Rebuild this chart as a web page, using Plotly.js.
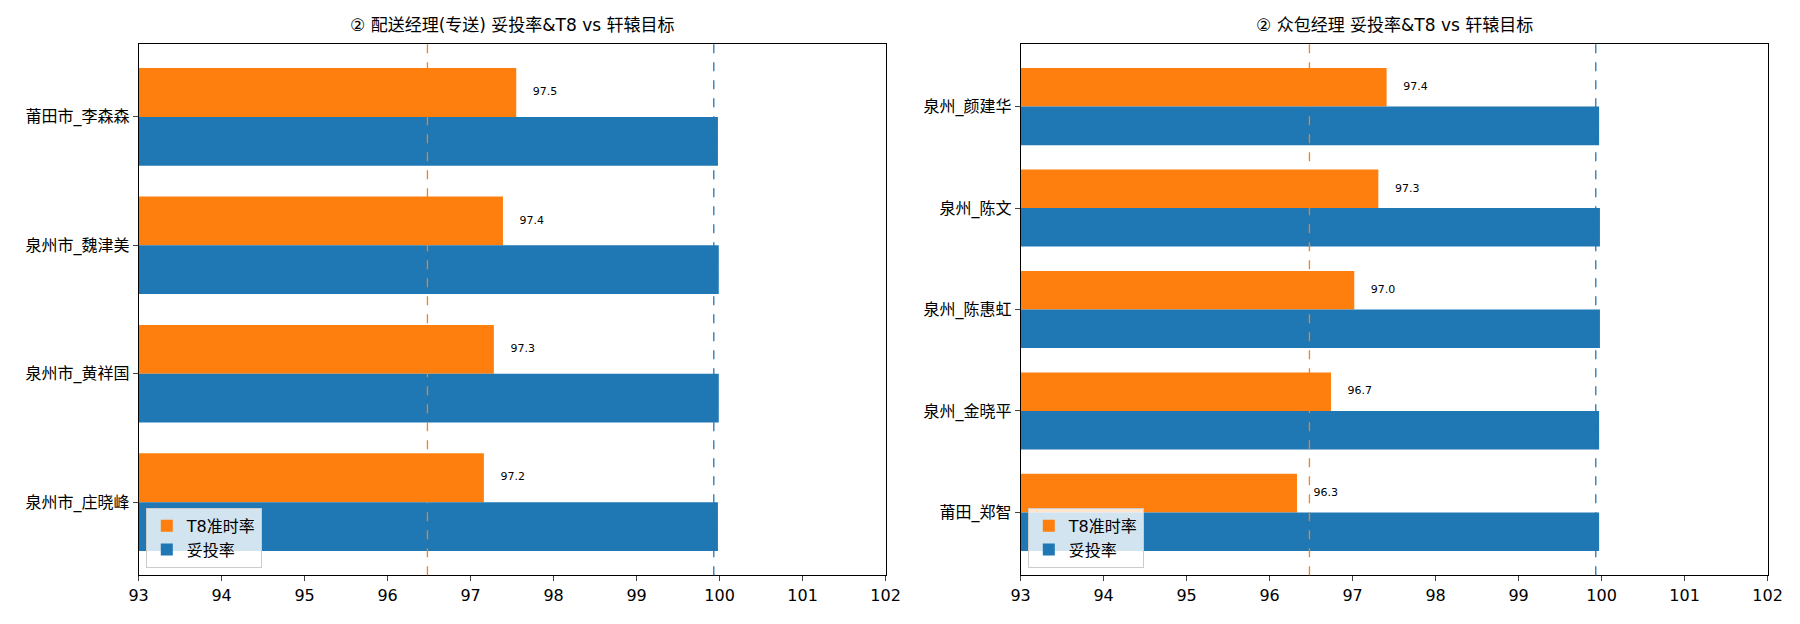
<!DOCTYPE html><html><head><meta charset="utf-8">
<script src="https://cdn.plot.ly/plotly-3.0.1.min.js"></script></head>
<body style="margin:0"><div id="c" style="width:1800px;height:624px"></div>
<script>
const leftNames=["莆田市_李森森","泉州市_魏津美","泉州市_黄祥国","泉州市_庄晓峰"];
const leftT8=[97.55,97.39,97.28,97.16];
const leftT8Text=["97.5","97.4","97.3","97.2"];
const leftTT=[99.98,99.99,99.99,99.98];
const rightNames=["泉州_颜建华","泉州_陈文","泉州_陈惠虹","泉州_金晓平","莆田_郑智"];
const rightT8=[97.41,97.31,97.02,96.74,96.33];
const rightT8Text=["97.4","97.3","97.0","96.7","96.3"];
const rightTT=[99.97,99.98,99.98,99.97,99.97];
const t8Target=96.48, ttTarget=99.93;
const OR='#ff7f0e', BL='#1f77b4';
const F='DejaVu Sans, Noto Sans CJK SC';
function pos(n){return Array.from({length:n},(_,i)=>n-1-i);}
function traces(names,t8,t8t,tt,ax,lg){
  const p=pos(names.length);
  return [
   {type:'bar',orientation:'h',x:t8,y:p.map(v=>v+0.19),width:0.38,marker:{color:OR},name:'T8准时率',xaxis:'x'+ax,yaxis:'y'+ax,legend:lg,hoverinfo:'x'},
   {type:'bar',orientation:'h',x:tt,y:p.map(v=>v-0.19),width:0.38,marker:{color:BL},name:'妥投率',xaxis:'x'+ax,yaxis:'y'+ax,legend:lg},
   {type:'scatter',mode:'text',x:t8.map(v=>v+0.2),y:p.map(v=>v+0.19),text:t8t,textposition:'middle right',textfont:{size:11,color:'#000'},showlegend:false,xaxis:'x'+ax,yaxis:'y'+ax}
  ];
}
const data=[...traces(leftNames,leftT8,leftT8Text,leftTT,'','legend'),...traces(rightNames,rightT8,rightT8Text,rightTT,'2','legend2')];
const xa={range:[93,102],dtick:1,showgrid:false,zeroline:false,showline:true,mirror:true,linecolor:'#000',ticks:'outside',tickfont:{size:16,color:'#000'}};
function ya(names){return {domain:[0.078,0.93],tickvals:pos(names.length),ticktext:names,showgrid:false,zeroline:false,showline:true,mirror:true,linecolor:'#000',ticks:'outside',tickfont:{size:16,color:'#000'}};}
function vline(x,c,ax){return {type:'line',xref:'x'+ax,yref:'y'+ax+' domain',x0:x,x1:x,y0:0,y1:1,line:{color:c,dash:'dash',width:1.3}};}
const lgs={bgcolor:'rgba(255,255,255,0.8)',bordercolor:'#ccc',borderwidth:1,font:{size:16,color:'#000'},xanchor:'left',yanchor:'bottom',traceorder:'normal'};
const layout={
 font:{family:F},barmode:'overlay',plot_bgcolor:'#fff',paper_bgcolor:'#fff',
 margin:{l:0,r:0,t:0,b:0},
 xaxis:Object.assign({domain:[0.077,0.492],anchor:'y'},xa),
 xaxis2:Object.assign({domain:[0.567,0.982],anchor:'y2'},xa),
 yaxis:Object.assign(ya(leftNames),{anchor:'x',range:[-0.57,3.57]}),
 yaxis2:Object.assign(ya(rightNames),{anchor:'x2',range:[-0.62,4.62]}),
 legend:Object.assign({x:0.081,y:0.09},lgs),
 legend2:Object.assign({x:0.571,y:0.09},lgs),
 shapes:[vline(t8Target,OR,''),vline(ttTarget,BL,''),vline(t8Target,OR,'2'),vline(ttTarget,BL,'2')],
 annotations:[
  {text:'② 配送经理(专送) 妥投率&T8 vs 轩辕目标',xref:'paper',yref:'paper',x:0.2845,xanchor:'center',y:0.94,yanchor:'bottom',showarrow:false,font:{size:17,color:'#000'}},
  {text:'② 众包经理 妥投率&T8 vs 轩辕目标',xref:'paper',yref:'paper',x:0.7745,xanchor:'center',y:0.94,yanchor:'bottom',showarrow:false,font:{size:17,color:'#000'}}
 ]
};
Plotly.newPlot('c',data,layout,{displayModeBar:false});
</script></body></html>
